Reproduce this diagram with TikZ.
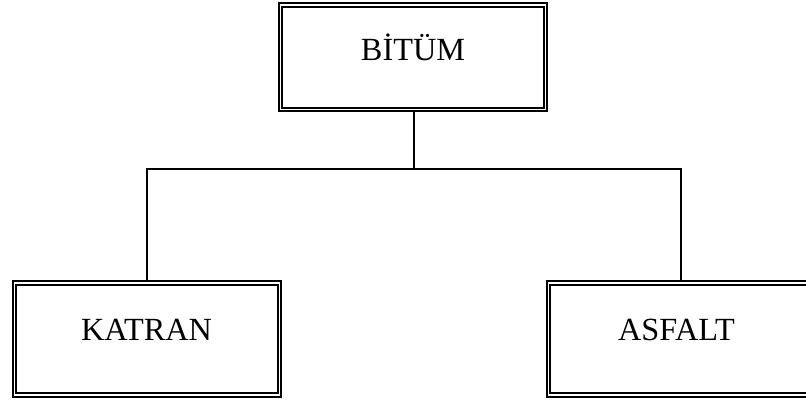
\documentclass[tikz,border=0pt]{standalone}
\usepackage{fontspec}
\setmainfont{Liberation Serif}
\begin{document}
\begin{tikzpicture}[x=1pt,y=-1pt,
  dbox/.style={draw=black,double=white,line width=2pt,double distance=1.4pt,
    minimum width=265.5pt,inner sep=0pt,fill=white},
  lbl/.style={anchor=base,inner sep=0pt,font=\fontsize{32.3}{36}\selectfont},
  conn/.style={draw=black,line width=1.6pt}]
\useasboundingbox (0,0) rectangle (806,400);
\clip (0,0) rectangle (806,400);
\fill[white] (0,0) rectangle (806,400);
\node[dbox,minimum height=104.3pt] (bitum) at (413,57.2) {};
\node[dbox,minimum height=112pt] (katran) at (147,339) {};
\node[dbox,minimum height=112pt] (asfalt) at (681,339) {};
\node[lbl] (tbitum) at (413,60) {BİTÜM};
\node[lbl] (tkatran) at (146.5,340.7) {KATRAN};
\node[lbl] (tasfalt) at (676.5,340.7) {ASFALT};
\coordinate (junc) at (414,169);
\draw[conn] (bitum.south -| junc) -- (junc);
\draw[conn] (katran.north) -- (katran.north |- junc) -- (asfalt.north |- junc) -- (asfalt.north);
\end{tikzpicture}
\end{document}
